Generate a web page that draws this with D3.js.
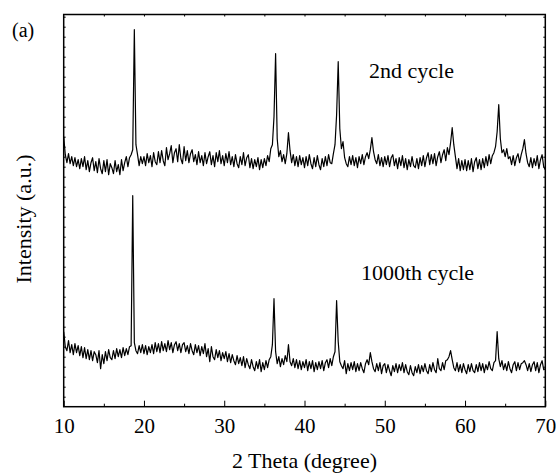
<!DOCTYPE html>
<html>
<head>
<meta charset="utf-8">
<script src="https://cdn.jsdelivr.net/npm/d3@7"></script>
<style>
  html, body { margin: 0; padding: 0; background: #fff; }
  svg { display: block; }
  text { font-family: "Liberation Serif", "Times New Roman", serif; fill: #000; }
</style>
</head>
<body>
<svg id="chart" width="556" height="474"></svg>
<script>
// 2-theta grid (degrees), 0.2 deg step from 10 to 70
const thetaStart = 10, thetaStep = 0.2;

// 2nd cycle intensity (a.u.), one value per grid point
const cycle2 = [
  270, 252, 244, 253, 243, 250, 241, 249, 240, 247,
  238, 248, 240, 250, 237, 246, 235, 244, 249, 236,
  245, 234, 248, 238, 233, 246, 235, 247, 232, 243,
  239, 233, 246, 235, 242, 232, 247, 236, 244, 250,
  240, 249, 252, 257, 377, 262, 252, 241, 250, 243,
  250, 241, 253, 244, 251, 240, 254, 245, 242, 255,
  244, 256, 246, 241, 259, 247, 253, 261, 244, 254,
  258, 245, 262, 248, 243, 260, 246, 256, 244, 253,
  257, 245, 252, 242, 255, 244, 251, 241, 254, 243,
  250, 255, 242, 251, 240, 254, 245, 256, 243, 251,
  241, 253, 244, 255, 242, 250, 240, 252, 243, 239,
  250, 242, 254, 241, 249, 252, 239, 248, 238, 247,
  240, 249, 237, 247, 239, 248, 241, 251, 245, 258,
  262, 290, 353, 268, 250, 256, 245, 252, 243, 253,
  274, 256, 244, 252, 241, 250, 240, 251, 242, 249,
  239, 250, 241, 252, 243, 238, 249, 240, 251, 242,
  237, 248, 240, 250, 241, 252, 244, 243, 253, 262,
  292, 345, 278, 258, 265, 249, 243, 240, 250, 242,
  251, 241, 249, 239, 250, 243, 252, 242, 250, 254,
  248, 257, 269, 255, 247, 243, 252, 241, 249, 240,
  250, 242, 251, 240, 249, 252, 241, 248, 238, 249,
  241, 251, 239, 248, 237, 247, 240, 250, 241, 239,
  248, 238, 249, 241, 251, 240, 249, 254, 242, 252,
  243, 253, 241, 250, 255, 244, 252, 257, 246, 259,
  252, 264, 279, 262, 250, 238, 248, 236, 246, 237,
  247, 236, 246, 237, 248, 235, 245, 249, 238, 247,
  237, 248, 239, 250, 241, 252, 243, 251, 254, 260,
  275, 302, 268, 254, 257, 250, 258, 248, 250, 242,
  251, 241, 249, 253, 244, 252, 258, 267, 253, 244,
  240, 249, 239, 248, 241, 251, 238, 247, 252, 240,
  237
];

// 1000th cycle intensity (a.u.)
const cycle1000 = [
  75, 60, 56, 66, 54, 62, 52, 63, 54, 61,
  51, 60, 49, 59, 48, 57, 47, 56, 46, 55,
  52, 44, 56, 38, 52, 43, 55, 46, 57, 49,
  47, 56, 48, 58, 50, 57, 49, 59, 51, 58,
  52, 60, 61, 211, 64, 56, 53, 61, 54, 62,
  53, 61, 52, 60, 54, 62, 53, 64, 55, 63,
  54, 65, 56, 63, 55, 66, 57, 64, 54, 62,
  65, 56, 63, 54, 62, 64, 55, 61, 53, 63,
  56, 52, 62, 54, 61, 51, 60, 53, 63, 50,
  58, 45, 60, 50, 47, 57, 49, 56, 46, 54,
  48, 55, 45, 53, 44, 52, 46, 42, 51, 43,
  49, 41, 50, 39, 48, 42, 38, 47, 40, 36,
  45, 38, 47, 35, 44, 37, 46, 39, 47, 50,
  62, 108, 55, 43, 50, 40, 48, 42, 51, 45,
  62, 45, 41, 48, 39, 47, 38, 46, 37, 45,
  39, 47, 36, 45, 38, 46, 35, 44, 37, 45,
  38, 46, 36, 44, 47, 39, 48, 41, 50, 55,
  106, 65, 45, 41, 38, 46, 33, 43, 36, 44,
  37, 45, 35, 43, 36, 44, 38, 34, 43, 47,
  42, 54, 45, 38, 35, 43, 36, 44, 33, 41,
  43, 34, 42, 36, 31, 41, 35, 43, 34, 42,
  36, 44, 34, 42, 35, 32, 41, 34, 31, 40,
  34, 42, 33, 41, 35, 43, 36, 33, 42, 35,
  44, 37, 34, 48, 38, 36, 44, 37, 46, 47,
  50, 56, 47, 39, 36, 44, 35, 42, 34, 43,
  37, 33, 42, 35, 43, 36, 34, 42, 35, 44,
  36, 43, 34, 42, 37, 45, 38, 36, 44, 46,
  75, 48, 40, 46, 37, 43, 36, 45, 38, 34,
  42, 45, 36, 44, 37, 43, 44, 46, 42, 36,
  43, 35, 42, 45, 36, 44, 34, 42, 46, 37,
  38
];

const xMajorTicks = [10, 20, 30, 40, 50, 60, 70];
const xMinorTicks = [15, 25, 35, 45, 55, 65];
const seriesLabels = ["2nd cycle", "1000th cycle"];
const xTitle = "2 Theta (degree)";
const yTitle = "Intensity (a.u.)";
const panelLabel = "(a)";

const svg = d3.select("#chart");
const L = 63.7, R = 545.3, T = 14.5, B = 406.7;

const x = d3.scaleLinear().domain([10, 70]).range([L, R]);
const y = d3.scaleLinear().domain([0, 392.2]).range([B, T]);

const toPts = arr => arr.map((v, i) => [thetaStart + i * thetaStep, v]);
const line = d3.line().x(d => x(d[0])).y(d => y(d[1]));

const g = svg.append("g");
[cycle2, cycle1000].forEach(arr => {
  g.append("path")
    .datum(toPts(arr))
    .attr("d", line)
    .attr("fill", "none")
    .attr("stroke", "#000")
    .attr("stroke-width", 1.2)
    .attr("stroke-linejoin", "round");
});

// axes
const bottomMajor = svg.append("g").attr("transform", `translate(0,${B})`)
  .call(d3.axisBottom(x).tickValues(xMajorTicks).tickSize(-6).tickPadding(11.5).tickFormat(d3.format("d")));
bottomMajor.selectAll("text").style("font-size", "21px");
svg.append("g").attr("transform", `translate(0,${B})`)
  .call(d3.axisBottom(x).tickValues(xMinorTicks).tickSize(-3).tickFormat(""));
svg.append("g").attr("transform", `translate(0,${T})`)
  .call(d3.axisTop(x).tickValues(d3.range(15, 70, 5)).tickSize(-2).tickFormat(""));
const yTicks = d3.range(10, 392, 10);
svg.append("g").attr("transform", `translate(${L},0)`)
  .call(d3.axisLeft(y).tickValues(yTicks).tickSize(-2).tickFormat(""));
svg.append("g").attr("transform", `translate(${R},0)`)
  .call(d3.axisRight(y).tickValues(yTicks).tickSize(-2).tickFormat(""));

svg.selectAll(".domain").remove();
svg.selectAll(".tick line").attr("stroke", "#000").attr("stroke-width", 1);
svg.selectAll(".tick text").attr("fill", "#000").style("font-family", '"Liberation Serif", "Times New Roman", serif');

svg.append("rect")
  .attr("x", L).attr("y", T).attr("width", R - L).attr("height", B - T)
  .attr("fill", "none").attr("stroke", "#000").attr("stroke-width", 1.5);

// titles
svg.append("text").attr("x", (L + R) / 2).attr("y", 468)
  .attr("text-anchor", "middle").style("font-size", "22px").text(xTitle);
svg.append("text").attr("transform", "translate(31,219) rotate(-90)")
  .attr("text-anchor", "middle").style("font-size", "22px").text(yTitle);
svg.append("text").attr("x", 12).attr("y", 37).style("font-size", "20px").text(panelLabel);

// series labels
svg.append("text").attr("x", 369).attr("y", 78).style("font-size", "22px").text(seriesLabels[0]);
svg.append("text").attr("x", 361).attr("y", 280).style("font-size", "22px").text(seriesLabels[1]);
</script>
</body>
</html>
